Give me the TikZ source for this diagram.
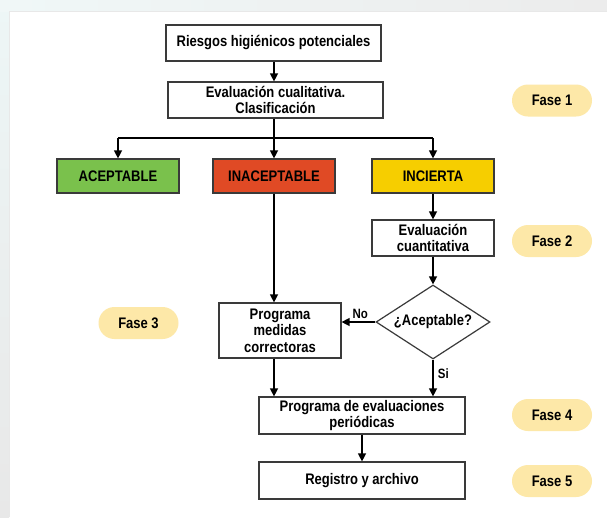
\documentclass[tikz,border=0pt]{standalone}
\usepackage{fontspec}
\setmainfont[FakeStretch=0.85]{Liberation Sans}
\usetikzlibrary{arrows.meta,shapes.geometric}
\definecolor{boxline}{HTML}{3A3A3A}
\definecolor{okgreen}{HTML}{7AC14C}
\definecolor{badred}{HTML}{E04A25}
\definecolor{unkyellow}{HTML}{F6CE00}
\definecolor{pill}{HTML}{FDE8A8}
\tikzset{
  x=1pt,y=-1pt,
  every node/.style={font=\bfseries\fontsize{15.3}{16.5}\selectfont, text=black},
  flowbox/.style={draw=boxline, line width=1.2pt, fill=white, minimum height=36pt, inner sep=0pt, align=center},
  classbox/.style={flowbox, minimum width=122pt, minimum height=34pt},
  fasepill/.style={fill=pill, rounded corners=16pt, minimum width=80pt, minimum height=32pt, inner sep=0pt},
  decision/.style={diamond, draw=boxline, line width=1.2pt, fill=white, minimum width=114pt, minimum height=74pt, inner sep=0pt, aspect=1.54},
  flowarrow/.style={draw=black, line width=1.3pt, -{Triangle[width=8pt,length=8pt]}},
  flowline/.style={draw=black, line width=1.3pt},
  lbl/.style={font=\bfseries\fontsize{13.5}{15}\selectfont}
}
\begin{document}
\begin{tikzpicture}
\useasboundingbox (0,0) rectangle (607,517);
% faded surrounding strips
\shade[top color=white!80!teal!35, bottom color=white!82!gray] (0,0) rectangle (9,517);
\shade[left color=white!80!teal!30, middle color=white!80!red!25, right color=white!85!gray] (0,0) rectangle (607,11);
\fill[white] (9,11) rectangle (607,517);
\draw[white!82!gray, line width=0.8pt] (9,11) -- (607,11);
\draw[white!82!gray, line width=0.8pt] (9,11) -- (9,517);

% boxes
\node[flowbox, minimum width=215pt] (riesgos) at (273.5,43) {Riesgos higiénicos potenciales};
\node[flowbox, minimum width=215pt] (cualit) at (275.5,100) {Evaluación cualitativa.\\Clasificación};
\node[classbox, fill=okgreen] (acept) at (118,176) {ACEPTABLE};
\node[classbox, fill=badred] (inacept) at (274,176) {INACEPTABLE};
\node[classbox, fill=unkyellow] (incierta) at (433,176) {INCIERTA};
\node[flowbox, minimum width=122pt] (cuantit) at (433,238) {Evaluación\\cuantitativa};
\node[decision] (dec) at (433,322) {¿Aceptable?};
\node[flowbox, minimum width=122pt, minimum height=55pt] (medidas) at (280,330.5) {Programa\\medidas\\correctoras};
\node[flowbox, minimum width=206pt, minimum height=37pt] (periodic) at (362,415.5) {Programa de evaluaciones\\periódicas};
\node[flowbox, minimum width=206pt, minimum height=37pt] (registro) at (362,480.5) {Registro y archivo};

% phase pills
\node[fasepill] (f1) at (552,100.5) {Fase 1};
\node[fasepill] (f2) at (552,241) {Fase 2};
\node[fasepill] (f3) at (138.5,323) {Fase 3};
\node[fasepill] (f4) at (552,415) {Fase 4};
\node[fasepill] (f5) at (552,481) {Fase 5};

% connectors
\draw[flowarrow] (riesgos.south -| 274,0) -- (cualit.north -| 274,0);
\coordinate (split) at (274,138);
\draw[flowline] (cualit.south -| split) -- (split);
\draw[flowline] (split -| acept.north) -- (split -| incierta.north);
\draw[flowarrow] (split -| acept.north) -- (acept.north);
\draw[flowarrow] (split) -- (inacept.north);
\draw[flowarrow] (split -| incierta.north) -- (incierta.north);
\draw[flowarrow] (incierta.south) -- (cuantit.north);
\draw[flowarrow] (cuantit.south) -- (dec.north);
\draw[flowarrow] (inacept.south) -- (inacept.south |- medidas.north);
\draw[flowarrow] (dec.west) -- node[lbl, above, pos=0.45, yshift=-1pt] {No} (medidas.east |- dec.west);
\draw[flowarrow] (dec.south) -- node[lbl, right, pos=0.38, xshift=1pt] {Si} (dec.south |- periodic.north);
\draw[flowarrow] (inacept.south |- medidas.south) -- (inacept.south |- periodic.north);
\draw[flowarrow] (periodic.south) -- (registro.north);
\end{tikzpicture}
\end{document}
